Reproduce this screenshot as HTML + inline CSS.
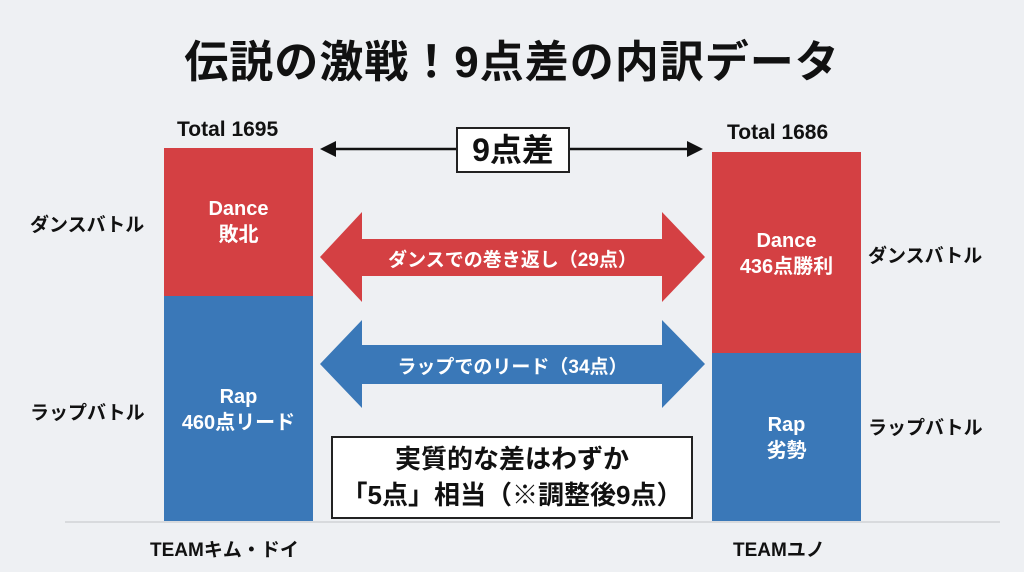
<!DOCTYPE html>
<html><head><meta charset="utf-8"><style>
body{margin:0;width:1024px;height:572px;background:#eef0f3;position:relative;overflow:hidden;font-family:"Liberation Sans","Noto Sans CJK JP",sans-serif;color:#111}
.a{position:absolute;white-space:nowrap}
.c{text-align:center}
.b{font-weight:bold}
</style></head><body>
<div class="a c" style="left:0;width:1024px;top:26px;font-size:44px;font-weight:bold;letter-spacing:1px">伝説の激戦！9点差の内訳データ</div>

<div class="a b" style="left:177px;top:118px;font-size:21px">Total 1695</div>
<div class="a b" style="left:727px;top:121px;font-size:21px">Total 1686</div>

<div class="a" style="left:164px;top:148px;width:149px;height:148px;background:#d44043"></div>
<div class="a" style="left:164px;top:296px;width:149px;height:226px;background:#3a78b8"></div>
<div class="a" style="left:712px;top:152px;width:149px;height:201px;background:#d44043"></div>
<div class="a" style="left:712px;top:353px;width:149px;height:169px;background:#3a78b8"></div>
<div class="a" style="left:65px;top:521px;width:935px;height:2px;background:#d8dadd"></div>

<div class="a c b" style="left:164px;width:149px;top:196px;font-size:20px;color:#fff;line-height:26px">Dance<br>敗北</div>
<div class="a c b" style="left:164px;width:149px;top:384px;font-size:20px;color:#fff;line-height:26px">Rap<br>460点リード</div>
<div class="a c b" style="left:712px;width:149px;top:228px;font-size:20px;color:#fff;line-height:26px">Dance<br>436点勝利</div>
<div class="a c b" style="left:712px;width:149px;top:412px;font-size:20px;color:#fff;line-height:26px">Rap<br>劣勢</div>

<div class="a b" style="left:30px;top:210px;font-size:19px">ダンスバトル</div>
<div class="a b" style="left:30px;top:398px;font-size:19px">ラップバトル</div>
<div class="a b" style="left:868px;top:241px;font-size:19px">ダンスバトル</div>
<div class="a b" style="left:868px;top:413px;font-size:19px">ラップバトル</div>
<div class="a b" style="left:150px;top:535px;font-size:19px">TEAMキム・ドイ</div>
<div class="a b" style="left:733px;top:535px;font-size:19px">TEAMユノ</div>

<svg class="a" style="left:0;top:0" width="1024" height="572">
<line x1="330" y1="149" x2="692" y2="149" stroke="#111" stroke-width="2.5"/>
<polygon points="320,149 336,141 336,157" fill="#111"/>
<polygon points="703,149 687,141 687,157" fill="#111"/>
<polygon points="320,257 362,212 362,239 662,239 662,212 705,257 662,302 662,276 362,276 362,302" fill="#d44043"/>
<polygon points="320,364 362,320 362,345 662,345 662,320 705,364 662,408 662,384 362,384 362,408" fill="#3a78b8"/>
</svg>
<div class="a c" style="left:456px;top:127px;width:110px;height:42px;border:2px solid #222;background:#fff;font-size:32px;font-weight:bold;line-height:42px">9点差</div>
<div class="a c b" style="left:320px;width:385px;top:245px;font-size:19px;color:#fff">ダンスでの巻き返し（29点）</div>
<div class="a c b" style="left:320px;width:385px;top:352px;font-size:19px;color:#fff">ラップでのリード（34点）</div>
<div class="a c" style="left:331px;top:436px;width:358px;height:76px;border:2px solid #222;background:#fff;font-size:26px;font-weight:bold;line-height:36px;padding-top:3px">実質的な差はわずか<br>「5点」相当（※調整後9点）</div>
</body></html>
